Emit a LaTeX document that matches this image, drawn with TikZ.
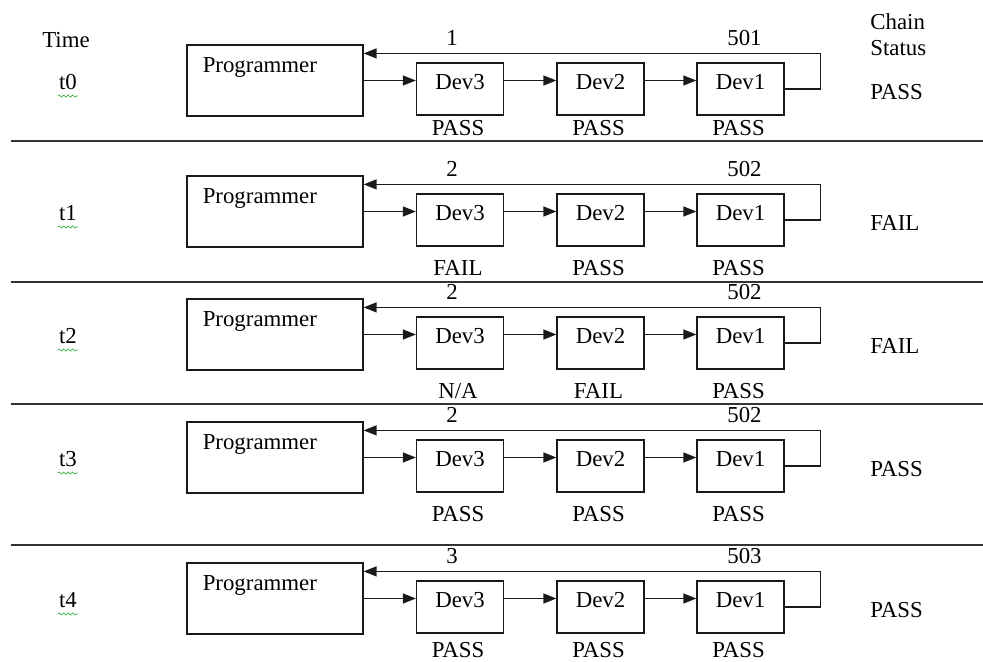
\documentclass[tikz,border=0pt]{standalone}
\usepackage{fontspec}
\setmainfont{Liberation Serif}
\usepackage{tikz}
\usetikzlibrary{arrows.meta,calc,decorations.pathmorphing}
\definecolor{linedark}{HTML}{1A1A1A}
\definecolor{rulegray}{HTML}{333333}
\definecolor{spellgreen}{HTML}{3CB043}
\tikzset{every node/.append style={font=\fontsize{13}{15.6}\selectfont}}
\tikzset{
  progbox/.style={draw=linedark,line width=0.7pt,minimum width=3.52cm,minimum height=1.42cm,inner sep=0pt},
  devbox/.style={draw=linedark,line width=0.7pt,minimum width=1.74cm,minimum height=1.04cm,inner sep=0pt,text height=0.18cm,text depth=0.16cm},
  plain/.style={inner sep=0pt},
  link/.style={->,linedark,line width=0.7pt},
  squiggle/.style={spellgreen,line width=0.4pt,decorate,decoration={snake,amplitude=0.6pt,segment length=0.9mm}}
}

\begin{document}
\begin{tikzpicture}[x=0.02cm,y=-0.02cm,>={Triangle[length=2.6mm,width=2mm]}]
  \useasboundingbox (0,0) rectangle (983,662);
  \node[plain] (timehead) at (66,40) {Time};
  \node[plain,anchor=west] (chainhead) at (870,22) {Chain};
  \node[plain,anchor=west] (statushead) at (870,48) {Status};
  \foreach \yy in {141,282,404,545}
    \draw[rulegray,line width=1pt] (11,\yy)--(983,\yy);
  \foreach \r/\py/\na/\nb/\sc/\sb/\sa/\st/\dl in {%
      0/45/1/501/PASS/PASS/PASS/PASS/12,
      1/176/2/502/FAIL/PASS/PASS/FAIL/21,
      2/299/2/502/{N/A}/FAIL/PASS/FAIL/21,
      3/422/2/502/PASS/PASS/PASS/PASS/21,
      4/563/3/503/PASS/PASS/PASS/PASS/16} {
    \node[plain] (time\r) at (68,\py+37) {t\r};
    \draw[squiggle] ($(time\r.south west)+(-1,6)$) -- ($(time\r.south east)+(1,6)$);
    \node[progbox] (prog\r) at (275,\py+35.5) {};
    \node[plain,anchor=base west] (progtxt\r) at ($(prog\r.north west)+(16,28)$) {Programmer};
    \node[devbox] (devc\r) at (460,\py+44) {Dev3};
    \node[devbox] (devb\r) at (600.5,\py+44) {Dev2};
    \node[devbox] (deva\r) at (740.5,\py+44) {Dev1};
    \draw[link] (prog\r.east) -- (prog\r.east -| devc\r.west);
    \draw[link] (devc\r.east |- prog\r.east) -- (devb\r.west |- prog\r.east);
    \draw[link] (devb\r.east |- prog\r.east) -- (deva\r.west |- prog\r.east);
    \draw[link] (deva\r.east) -- ++(36,0) |- ($(prog\r.north east)+(0,9)$);
    \node[plain] (numc\r) at ($(devc\r.north)+(-8,-24)$) {\na};
    \node[plain] (numa\r) at ($(deva\r.north)+(4,-24)$) {\nb};
    \node[plain] (statc\r) at ($(devc\r.south)+(-2,\dl)$) {\sc};
    \node[plain] (statb\r) at ($(devb\r.south)+(-2,\dl)$) {\sb};
    \node[plain] (stata\r) at ($(deva\r.south)+(-2,\dl)$) {\sa};
    \node[plain,anchor=west] (chain\r) at (870,\py+47) {\st};
  }
\end{tikzpicture}
\end{document}
